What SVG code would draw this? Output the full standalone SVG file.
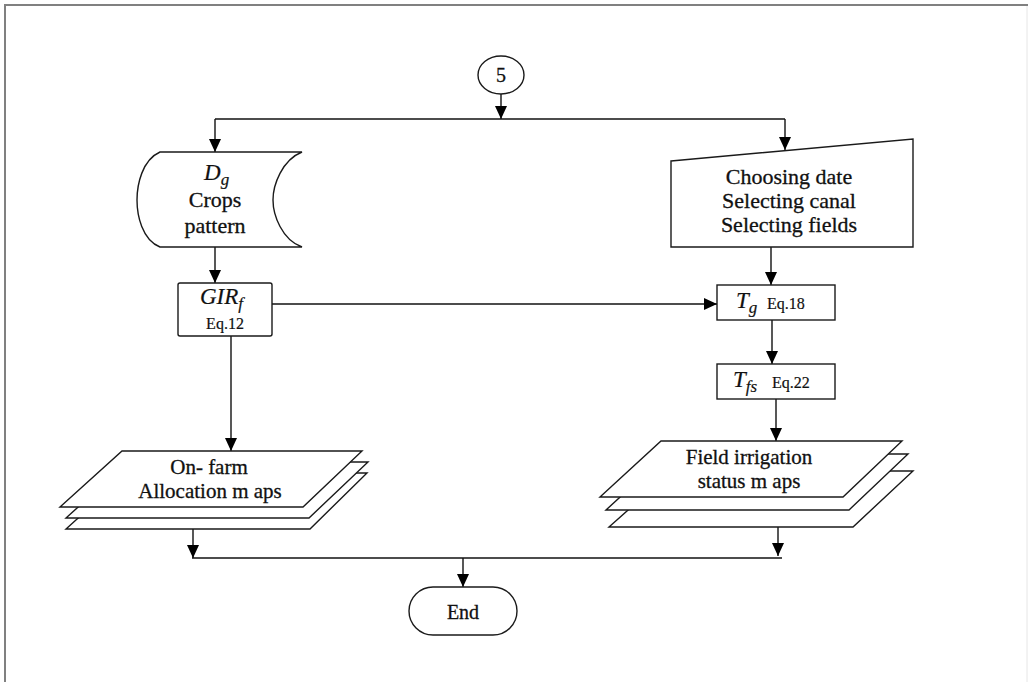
<svg xmlns="http://www.w3.org/2000/svg" width="1028" height="682" viewBox="0 0 1028 682">
<defs>
<marker id="ah" markerUnits="userSpaceOnUse" markerWidth="14" markerHeight="14" viewBox="0 0 14 14" refX="13" refY="7" orient="auto">
<path d="M0,1 L13,7 L0,13 Z" fill="#000"/>
</marker>
<style>
.sh{fill:#fff;stroke:#1a1a1a;stroke-width:1.4}
.ln{fill:none;stroke:#111;stroke-width:1.4}
.ar{fill:none;stroke:#111;stroke-width:1.4;marker-end:url(#ah)}
.t{font-family:"Liberation Serif","Times New Roman",serif;font-size:22px;fill:#111;stroke:#111;stroke-width:0.3;text-anchor:middle}
.m{font-family:"Liberation Serif","Times New Roman",serif;font-style:italic;font-size:23px;fill:#111;stroke:#111;stroke-width:0.2}
.s{font-family:"Liberation Serif","Times New Roman",serif;font-size:16px;fill:#111;stroke:#111;stroke-width:0.2}
</style>
</defs>
<rect width="1028" height="682" fill="#fff"/>
<g id="frame">
<line x1="4" y1="5" x2="1028" y2="5" stroke="#808080" stroke-width="2"/>
<line x1="5" y1="4" x2="5" y2="682" stroke="#808080" stroke-width="2"/>
<line x1="1027" y1="6" x2="1027" y2="682" stroke="#e6e6e6" stroke-width="1"/>
</g>
<g id="connectors">
<line class="ar" x1="501" y1="94" x2="501" y2="119"/>
<polyline class="ln" points="215,119 785,119"/>
<line class="ar" x1="215" y1="119" x2="215" y2="152"/>
<line class="ar" x1="785" y1="119" x2="785" y2="150"/>
<line class="ar" x1="215" y1="247" x2="215" y2="283"/>
<line class="ar" x1="771" y1="247" x2="771" y2="285"/>
<line class="ar" x1="253" y1="304" x2="717" y2="304"/>
<line class="ar" x1="772" y1="320" x2="772" y2="364"/>
<line class="ar" x1="776" y1="399" x2="776" y2="441"/>
<line class="ar" x1="231" y1="336" x2="231" y2="451"/>
<line class="ar" x1="193" y1="529" x2="193" y2="558"/>
<line class="ar" x1="778" y1="527" x2="778" y2="556"/>
<line class="ln" x1="192" y1="558" x2="782" y2="558"/>
<line class="ar" x1="463" y1="558" x2="463" y2="587"/>
</g>
<g id="node-5">
<ellipse class="sh" cx="501" cy="75" rx="23" ry="19"/>
<text class="t" x="501" y="82" style="font-size:20px">5</text>
</g>
<g id="node-dg">
<path class="sh" d="M160,152 L302,152 C282,160 273,185 273,200 C273,215 282,240 302,247 L160,247 C142,240 137,215 137,200 C137,185 142,160 160,152 Z"/>
<text class="m" x="204" y="180">D<tspan style="font-size:17px" dy="5">g</tspan></text>
<text class="t" x="215" y="207">Crops</text>
<text class="t" x="215" y="233">pattern</text>
</g>
<g id="node-input">
<polygon class="sh" points="671,161 913,139 913,247 671,247"/>
<text class="t" x="789" y="184">Choosing date</text>
<text class="t" x="789" y="208">Selecting canal</text>
<text class="t" x="789" y="232">Selecting fields</text>
</g>
<g id="node-gir">
<rect class="sh" x="178" y="283" width="94" height="53" rx="2"/>
<text class="m" x="200" y="304">GIR<tspan style="font-size:17px" dy="5">f</tspan></text>
<text class="s" x="225" y="329" text-anchor="middle">Eq.12</text>
</g>
<g id="node-tg">
<rect class="sh" x="717" y="285" width="118" height="35"/>
<text class="m" x="736" y="308">T<tspan style="font-size:17px" dy="5">g</tspan></text>
<text class="s" x="767" y="309">Eq.18</text>
</g>
<g id="node-tfs">
<rect class="sh" x="717" y="364" width="118" height="35"/>
<text class="m" x="733" y="387">T<tspan style="font-size:17px" dy="5">fs</tspan></text>
<text class="s" x="772" y="388">Eq.22</text>
</g>
<g id="node-onfarm">
<polygon class="sh" points="128,473 367,473 310,529 66,529"/>
<polygon class="sh" points="128,462 368,462 309,518 66,518"/>
<polygon class="sh" points="122,451 362,451 303,507 60,507"/>
<text class="t" x="209" y="474" style="font-size:21px">On- farm</text>
<text class="t" x="210" y="498" style="font-size:21px">Allocation m aps</text>
</g>
<g id="node-field">
<polygon class="sh" points="672,471 913,471 853,527 609,527"/>
<polygon class="sh" points="667,454 908,454 849,510 606,510"/>
<polygon class="sh" points="661,441 902,441 843,497 600,497"/>
<text class="t" x="749" y="464" style="font-size:21px">Field irrigation</text>
<text class="t" x="749" y="488" style="font-size:21px">status m aps</text>
</g>
<g id="node-end">
<rect class="sh" x="409" y="587" width="108" height="48" rx="24"/>
<text class="t" x="463" y="619" style="font-size:20px">End</text>
</g>
</svg>
